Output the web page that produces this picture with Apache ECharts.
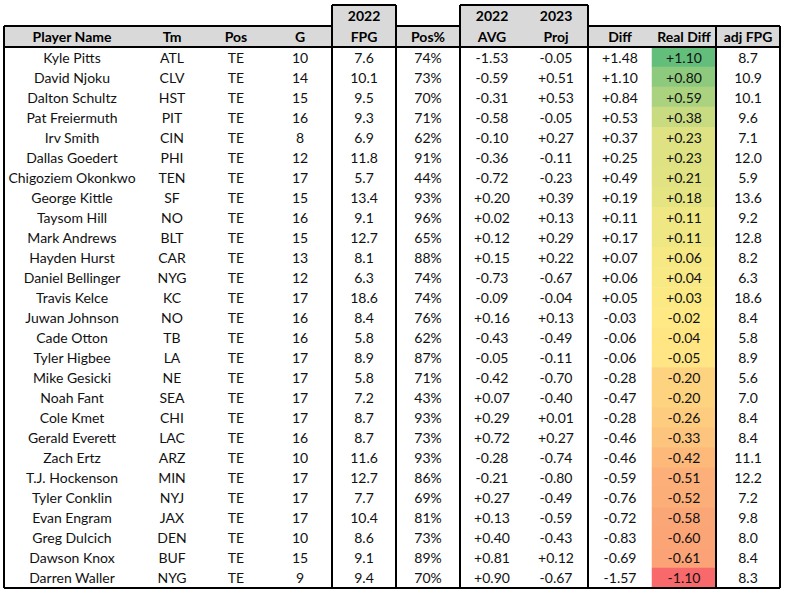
<!DOCTYPE html>
<html>
<head>
<meta charset="utf-8">
<script src="https://cdn.jsdelivr.net/npm/echarts@6/dist/echarts.min.js"></script>
<style>
html, body { margin: 0; padding: 0; background: #fff; }
#table { width: 786px; height: 595px; }
</style>
</head>
<body>
<div id="table"></div>
<script>
const headers = ['Player Name', 'Tm', 'Pos', 'G', 'FPG', 'Pos%', 'AVG', 'Proj', 'Diff', 'Real Diff', 'adj FPG']
const topHeaders = ['', '', '', '', '2022', '', '2022', '2023', '', '', '']

const players = ['Kyle Pitts', 'David Njoku', 'Dalton Schultz', 'Pat Freiermuth', 'Irv Smith', 'Dallas Goedert',
  'Chigoziem Okonkwo', 'George Kittle', 'Taysom Hill', 'Mark Andrews', 'Hayden Hurst', 'Daniel Bellinger',
  'Travis Kelce', 'Juwan Johnson', 'Cade Otton', 'Tyler Higbee', 'Mike Gesicki', 'Noah Fant', 'Cole Kmet',
  'Gerald Everett', 'Zach Ertz', 'T.J. Hockenson', 'Tyler Conklin', 'Evan Engram', 'Greg Dulcich',
  'Dawson Knox', 'Darren Waller']
const teams = ['ATL', 'CLV', 'HST', 'PIT', 'CIN', 'PHI', 'TEN', 'SF', 'NO', 'BLT', 'CAR', 'NYG', 'KC', 'NO',
  'TB', 'LA', 'NE', 'SEA', 'CHI', 'LAC', 'ARZ', 'MIN', 'NYJ', 'JAX', 'DEN', 'BUF', 'NYG']
const positions = players.map(() => 'TE')
const games = [10, 14, 15, 16, 8, 12, 17, 15, 16, 15, 13, 12, 17, 16, 16, 17, 17, 17, 17, 16, 10, 17, 17, 17, 10, 15, 9]
const fpg = [7.6, 10.1, 9.5, 9.3, 6.9, 11.8, 5.7, 13.4, 9.1, 12.7, 8.1, 6.3, 18.6, 8.4, 5.8, 8.9, 5.8, 7.2, 8.7,
  8.7, 11.6, 12.7, 7.7, 10.4, 8.6, 9.1, 9.4]
const posPct = [74, 73, 70, 71, 62, 91, 44, 93, 96, 65, 88, 74, 74, 76, 62, 87, 71, 43, 93, 73, 93, 86, 69, 81, 73, 89, 70]
const avg2022 = [-1.53, -0.59, -0.31, -0.58, -0.10, -0.36, -0.72, 0.20, 0.02, 0.12, 0.15, -0.73, -0.09, 0.16,
  -0.43, -0.05, -0.42, 0.07, 0.29, 0.72, -0.28, -0.21, 0.27, 0.13, 0.40, 0.81, 0.90]
const proj2023 = [-0.05, 0.51, 0.53, -0.05, 0.27, -0.11, -0.23, 0.39, 0.13, 0.29, 0.22, -0.67, -0.04, 0.13,
  -0.49, -0.11, -0.70, -0.40, 0.01, 0.27, -0.74, -0.80, -0.49, -0.59, -0.43, 0.12, -0.67]
const diff = [1.48, 1.10, 0.84, 0.53, 0.37, 0.25, 0.49, 0.19, 0.11, 0.17, 0.07, 0.06, 0.05, -0.03, -0.06,
  -0.06, -0.28, -0.47, -0.28, -0.46, -0.46, -0.59, -0.76, -0.72, -0.83, -0.69, -1.57]
const realDiff = [1.10, 0.80, 0.59, 0.38, 0.23, 0.23, 0.21, 0.18, 0.11, 0.11, 0.06, 0.04, 0.03, -0.02, -0.04,
  -0.05, -0.20, -0.20, -0.26, -0.33, -0.42, -0.51, -0.52, -0.58, -0.60, -0.61, -1.10]
const adjFpg = [8.7, 10.9, 10.1, 9.6, 7.1, 12.0, 5.9, 13.6, 9.2, 12.8, 8.2, 6.3, 18.6, 8.4, 5.8, 8.9, 5.6, 7.0,
  8.4, 8.4, 11.1, 12.2, 7.2, 9.8, 8.0, 8.4, 8.3]

const signed = v => (v > 0 ? '+' : '') + v.toFixed(2)
const oneDec = v => v.toFixed(1)

// one entry per column: values + how to print them
const columns = [
  { vals: players, fmt: v => v },
  { vals: teams, fmt: v => v },
  { vals: positions, fmt: v => v },
  { vals: games, fmt: v => String(v) },
  { vals: fpg, fmt: oneDec },
  { vals: posPct, fmt: v => v + '%' },
  { vals: avg2022, fmt: signed },
  { vals: proj2023, fmt: signed },
  { vals: diff, fmt: signed },
  { vals: realDiff, fmt: signed },
  { vals: adjFpg, fmt: oneDec }
]

// layout (pixels)
const colWidths = [136, 64, 64, 64, 64, 64, 64, 64, 64, 64, 64]
const tableLeft = 4
const boxTop = 5
const headTop = 26
const bodyTop = 47
const bodyHeight = 541
const boxes = [[4, 5], [6, 8]] // column ranges framed up to the top header row
const font = 'Lato, "Noto Sans", sans-serif'

const xs = [tableLeft]
colWidths.forEach(w => xs.push(xs[xs.length - 1] + w))
const tableRight = xs[xs.length - 1]
const bottom = bodyTop + bodyHeight

const grids = [], xAxes = [], yAxes = [], series = []
columns.forEach((col, i) => {
  grids.push({ left: xs[i], top: bodyTop, width: colWidths[i], height: bodyHeight })
  xAxes.push({
    type: 'category',
    gridIndex: i,
    position: 'top',
    data: [headers[i]],
    axisLine: { show: false },
    axisTick: { show: false },
    splitLine: { show: false },
    axisLabel: {
      interval: 0,
      margin: 0,
      lineHeight: 21,
      fontSize: 14,
      fontWeight: 'bold',
      fontFamily: font,
      color: '#000',
      formatter: v => topHeaders[i] ? topHeaders[i] + '\n' + v : v
    }
  })
  yAxes.push({ type: 'category', gridIndex: i, data: players, inverse: true, show: false })
  series.push({
    type: 'heatmap',
    xAxisIndex: i,
    yAxisIndex: i,
    silent: true,
    emphasis: { disabled: true },
    itemStyle: i === 9 ? {} : { color: '#fff' },
    data: col.vals.map((v, r) => [0, r, typeof v === 'number' ? v : r]),
    label: {
      show: true,
      fontSize: 14,
      fontFamily: font,
      color: '#111',
      formatter: p => col.fmt(col.vals[p.dataIndex])
    }
  })
})

// header shading and the black frame lines
const graphics = []
const rect = (x, y, w, h) => graphics.push({ type: 'rect', z: -1, shape: { x, y, width: w, height: h }, style: { fill: '#D9D9D9' } })
const line = (x1, y1, x2, y2) => graphics.push({ type: 'line', z: 100, shape: { x1, y1, x2, y2 }, style: { stroke: '#000', lineWidth: 2 } })

rect(tableLeft, headTop, tableRight - tableLeft, bodyTop - headTop)
boxes.forEach(([a, b]) => {
  rect(xs[a], boxTop, xs[b] - xs[a], headTop - boxTop)
  line(xs[a], boxTop, xs[b], boxTop)
  line(xs[a], boxTop, xs[a], bottom)
  line(xs[b], boxTop, xs[b], bottom)
})
let segStart = tableLeft
boxes.forEach(([a, b]) => {
  line(segStart, headTop, xs[a], headTop)
  segStart = xs[b]
})
line(segStart, headTop, tableRight, headTop)
line(tableLeft, headTop, tableLeft, bottom)
line(xs[10], headTop, xs[10], bottom)
line(tableRight, headTop, tableRight, bottom)
line(tableLeft, bodyTop, tableRight, bodyTop)
line(tableLeft, bottom, tableRight, bottom)

const chart = echarts.init(document.getElementById('table'), null, { renderer: 'svg' })
chart.setOption({
  animation: false,
  backgroundColor: '#fff',
  grid: grids,
  xAxis: xAxes,
  yAxis: yAxes,
  visualMap: {
    type: 'continuous',
    show: false,
    seriesIndex: 9,
    dimension: 2,
    min: -1.10,
    max: 1.10,
    inRange: { color: ['#F8696B', '#FFEB84', '#63BE7B'] }
  },
  graphic: graphics,
  series: series
})
</script>
</body>
</html>
